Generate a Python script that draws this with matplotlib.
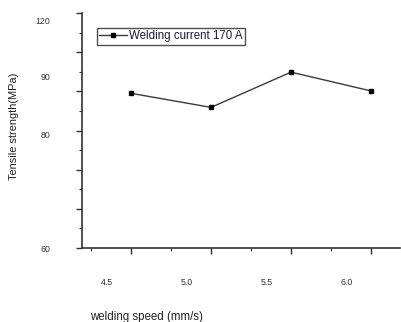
import matplotlib
matplotlib.use("Agg")
import matplotlib.pyplot as plt
from matplotlib.ticker import MultipleLocator
from matplotlib.transforms import ScaledTranslation

plt.rcParams['font.family'] = ['Liberation Sans', 'DejaVu Sans']

# Data
speeds = [4.5, 5.0, 5.5, 6.0]
strength = [99.5, 95.9, 104.9, 100.1]
series_label = "Welding current 170 A"
xtick_labels = ["4.5", "5.0", "5.5", "6.0"]
ytick_texts = ["120", "90", "80", "60"]
ytick_text_px = [22, 78, 135, 249]   # vertical pixel positions as in the reference

W, H = 401, 322
fig = plt.figure(figsize=(W / 100, H / 100), dpi=100)
ax = fig.add_axes([82 / W, 1 - 248 / H, (400 - 82) / W, (248 - 13) / H])

ax.plot(speeds, strength, color='#3a3a3a', lw=1.0, marker='s', ms=3.2,
        mfc='black', mec='black', label=series_label)

ax.set_xlim(4.5 - 49 / 160, 6.0 + 29 / 160)
ax.set_ylim(60, 120)

for s in ['top', 'right']:
    ax.spines[s].set_visible(False)
for s in ['left', 'bottom']:
    ax.spines[s].set_linewidth(1.2)
    ax.spines[s].set_color('#333333')

ax.set_xticks(speeds, xtick_labels)
ax.xaxis.set_minor_locator(MultipleLocator(0.5, offset=0.25))
ax.yaxis.set_major_locator(MultipleLocator(10))
ax.yaxis.set_minor_locator(MultipleLocator(5))
ax.set_yticklabels([])

ax.tick_params(axis='both', which='major', direction='out', length=4.5,
               width=1.0, color='#333333')
ax.tick_params(axis='both', which='minor', direction='out', length=2.5,
               width=0.8, color='#333333')
ax.tick_params(axis='x', which='major', labelsize=6.3, pad=17,
               labelcolor='#333333')

off = ScaledTranslation(-0.24, 0, fig.dpi_scale_trans)
for lab in ax.get_xticklabels():
    lab.set_transform(lab.get_transform() + off)

for t, py in zip(ytick_texts, ytick_text_px):
    fig.text(50 / W, 1 - py / H, t, ha='right', va='center',
             fontsize=6.3, color='#333333')

fig.text(14 / W, 1 - 126 / H, "Tensile strength(MPa)", rotation=90,
         ha='center', va='center', fontsize=7.9, color='#222222')
fig.text(90 / W, 1 - 317 / H, "welding speed (mm/s)", ha='left',
         va='center', fontsize=8.3, color='#222222')

leg = ax.legend(loc='upper left', bbox_to_anchor=(97 / W, 1 - 28 / H),
                bbox_transform=fig.transFigure, fontsize=8.3,
                handlelength=2.4, handletextpad=0.15, borderpad=0.2,
                borderaxespad=0, frameon=True, fancybox=False)
leg.get_frame().set_edgecolor('#222222')
leg.get_frame().set_linewidth(1.0)
for txt in leg.get_texts():
    txt.set_color('#1a1a3a')

fig.savefig("out.png", dpi=100)
